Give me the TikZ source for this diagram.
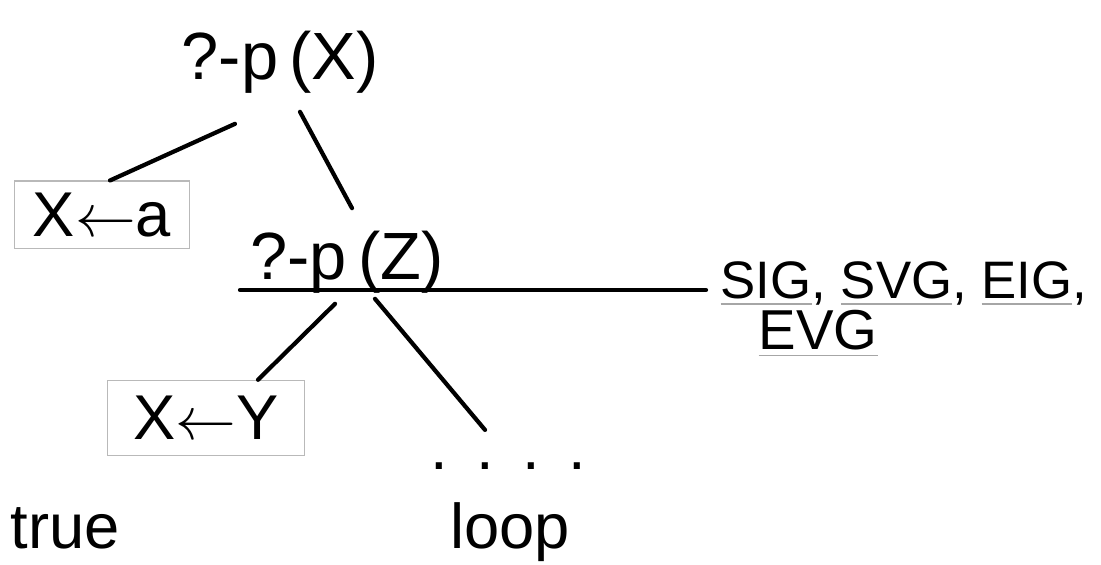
\documentclass[tikz,border=0pt]{standalone}
\usepackage{fontspec}
\setmainfont{Liberation Sans}
\usepackage{tikz}
\usetikzlibrary{positioning}
\newcommand{\greyline}[1]{\textcolor{gray!70}{\underline{\textcolor{black}{#1}}}}

\begin{document}
\begin{tikzpicture}[
  x=0.01cm, y=-0.01cm,
  goal/.style={font=\fontsize{19}{23}\selectfont, inner sep=0pt},
  subst/.style={draw=gray!55, thin, align=center, font=\fontsize{18}{22}\selectfont},
  tag/.style={font=\fontsize{15}{19}\selectfont, inner sep=0pt, anchor=west},
  note/.style={font=\fontsize{18}{22}\selectfont, inner sep=0pt},
  edge/.style={line width=1.2pt, line cap=round}
]
\useasboundingbox (0,0) rectangle (1101,565);

\node[goal] (goalX) at (280,62) {?-p\,(X)};
\node[subst, minimum width=1.75cm, minimum height=0.6cm] (boxA) at (102,215) {X$\leftarrow$a};
\node[goal] (goalZ) at (347,262) {?-p\,(Z)};
\node[subst, minimum width=1.97cm, minimum height=0.75cm] (boxB) at (206,418) {X$\leftarrow$Y};
\node[note] (dots) at (508,466) {.\hspace{0.45em}.\hspace{0.45em}.\hspace{0.45em}.};
\node[note] (loop) at (510,532) {loop};
\node[note, anchor=west] (true) at (10,528) {true};

\node[tag] (tags) at (720,284) {\greyline{SIG}, \greyline{SVG}, \greyline{EIG},};
\node[tag, font=\fontsize{16}{19}\selectfont] (tags2) at (758,334) {\greyline{EVG}};

\coordinate (cutL) at (240,290);

\draw[edge] ([shift={(-45,30)}]goalX.south) -- ([shift={(8,0)}]boxA.north);
\draw[edge] ([shift={(20,18)}]goalX.south) -- ([shift={(5,-22)}]goalZ.north);
\draw[edge] (cutL) -- ([shift={(-14,6)}]tags.west);
\draw[edge] ([shift={(-12,10)}]goalZ.south) -- ([shift={(52,0)}]boxB.north);
\draw[edge] ([shift={(28,5)}]goalZ.south) -- ([shift={(-23,-32)}]dots.north);
\end{tikzpicture}
\end{document}
